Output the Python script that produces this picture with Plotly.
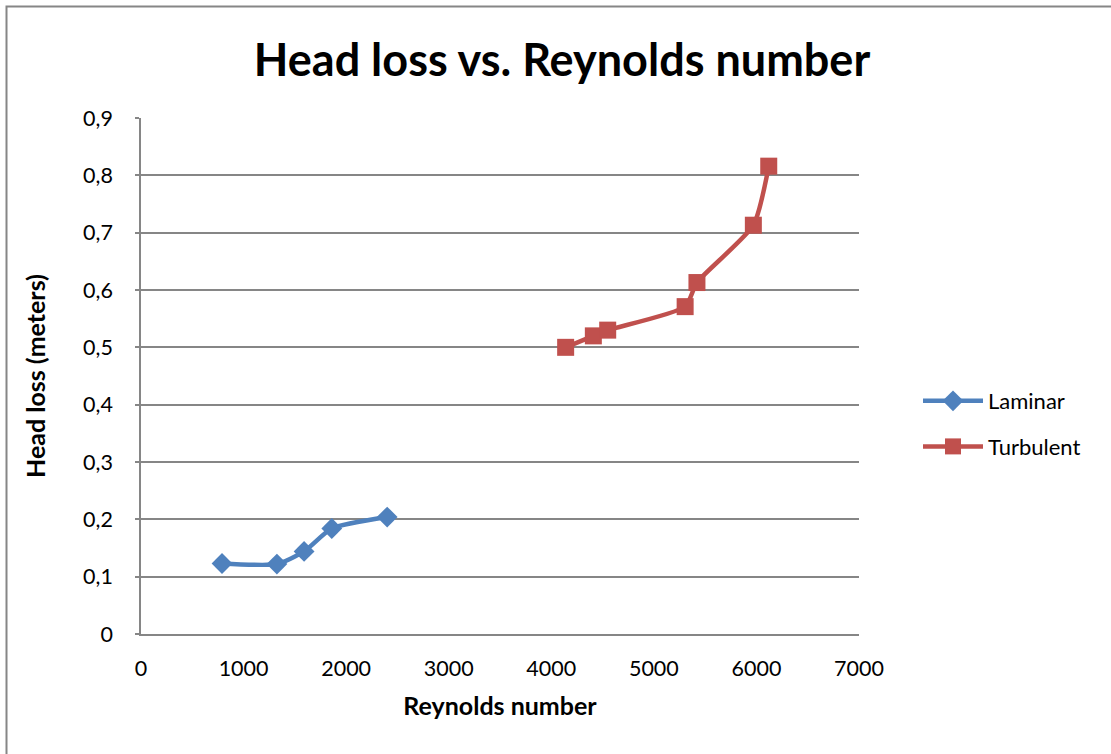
import plotly.graph_objects as go

laminar_re = [790, 1325, 1590, 1860, 2400]
laminar_hl = [0.123, 0.122, 0.144, 0.184, 0.204]
turbulent_re = [4140, 4410, 4550, 5305, 5420, 5970, 6120]
turbulent_hl = [0.500, 0.520, 0.530, 0.571, 0.613, 0.713, 0.816]

x_ticks = [0, 1000, 2000, 3000, 4000, 5000, 6000, 7000]
x_labels = ["0", "1000", "2000", "3000", "4000", "5000", "6000", "7000"]
y_ticks = [0, 0.1, 0.2, 0.3, 0.4, 0.5, 0.6, 0.7, 0.8, 0.9]
y_labels = ["0", "0,1", "0,2", "0,3", "0,4", "0,5", "0,6", "0,7", "0,8", "0,9"]

FONT = "Lato"
fig = go.Figure()
fig.add_trace(go.Scatter(
    x=laminar_re, y=laminar_hl, name="Laminar", mode="lines+markers", legendgroup="a",
    line=dict(color="#4F81BD", width=4.5, shape="spline", smoothing=0.6),
    marker=dict(symbol="diamond", size=16, color="#4F81BD"),
))
fig.add_trace(go.Scatter(
    x=turbulent_re, y=turbulent_hl, name="Turbulent", mode="lines+markers", legendgroup="b",
    line=dict(color="#C0504D", width=4.5, shape="spline", smoothing=0.6),
    marker=dict(symbol="square", size=17, color="#C0504D"),
))

L, R, T, B = 141, 859, 118, 634
W, H = 1111, 754
def px(p):
    return (p - L) / (R - L)
def py(p):
    return (B - p) / (B - T)

fig.update_layout(
    width=W, height=H,
    margin=dict(l=L, r=W - R, t=T, b=H - B),
    paper_bgcolor="white", plot_bgcolor="white",
    font=dict(family=FONT, color="black", size=21),
    title=dict(text="<b>Head loss vs. Reynolds number</b>", x=562 / W, xanchor="center",
               y=1 - 60 / H, yanchor="middle", font=dict(size=45, family=FONT)),
    xaxis=dict(range=[0, 7000], tickvals=x_ticks, ticktext=x_labels, showgrid=False,
               showline=True, linecolor="#868686", linewidth=1.5, zeroline=False,
               ticks="", ticklabelstandoff=14, tickfont=dict(size=21.5),
               title=dict(text="<b>Reynolds number</b>", font=dict(size=25), standoff=18)),
    yaxis=dict(range=[0, 0.9], tickvals=y_ticks, ticktext=y_labels, showgrid=True,
               gridcolor="#868686", gridwidth=1.5, showline=True, linecolor="#868686",
               linewidth=1.5, zeroline=False, ticks="outside", ticklen=4, tickcolor="#868686",
               tickwidth=1.5, ticklabelstandoff=18, tickfont=dict(size=21.5),
               title=dict(text="<b>Head loss (meters)</b>", font=dict(size=25), standoff=30)),
    legend=dict(x=px(918), y=py(380), xanchor="left", yanchor="top",
                font=dict(size=22, family=FONT), itemwidth=60, tracegroupgap=14,
                bgcolor="rgba(0,0,0,0)"),
    shapes=[dict(type="rect", xref="paper", yref="paper",
                 x0=px(6.5), x1=px(1120), y0=py(770), y1=py(6.5),
                 line=dict(color="#868686", width=2), layer="below")],
)
fig.write_html("out.html", config={"displayModeBar": False},
               post_script="document.body.style.margin='0';document.body.style.overflow='hidden';")
